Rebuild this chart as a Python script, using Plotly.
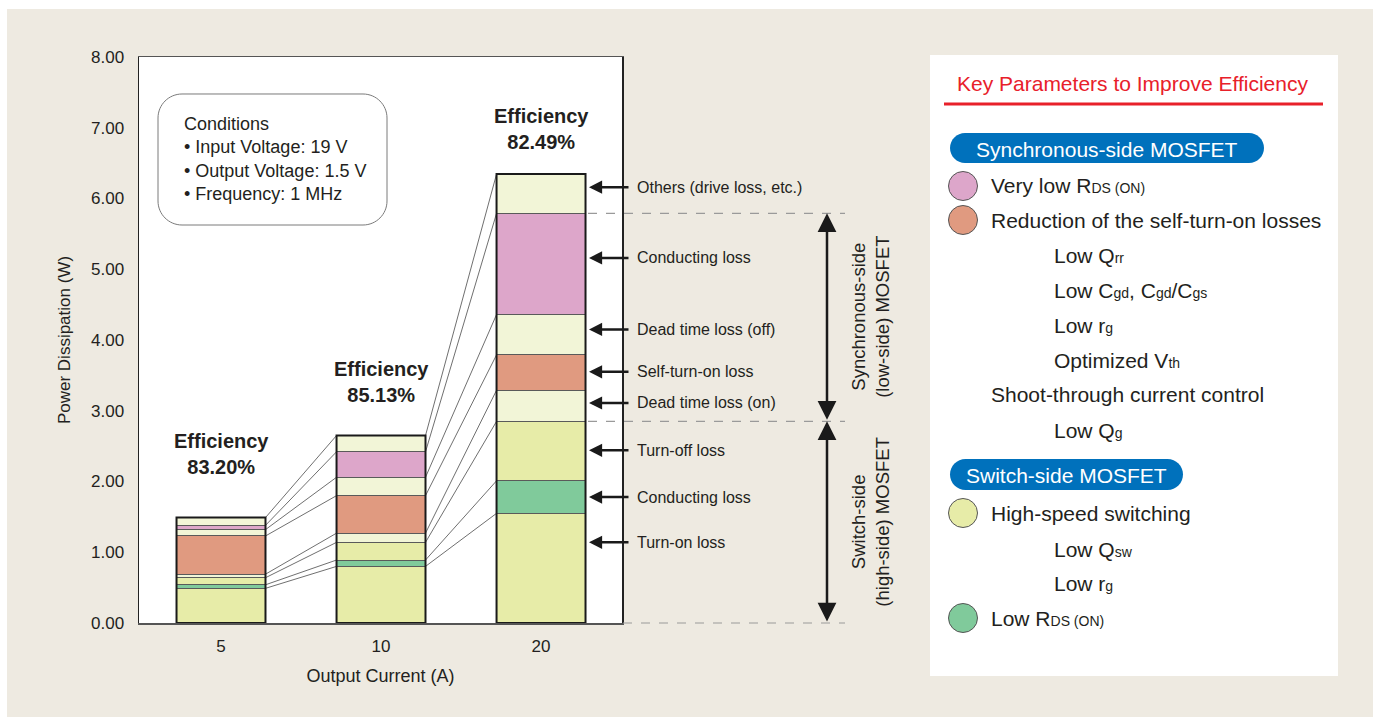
import plotly.graph_objects as go

# ---------------- data ----------------
currents = ["5", "10", "20"]
efficiency = ["83.20%", "85.13%", "82.49%"]

turn_on_loss = [0.49, 0.80, 1.55]
hs_conducting_loss = [0.05, 0.09, 0.46]
turn_off_loss = [0.10, 0.25, 0.84]
dead_time_loss_on = [0.05, 0.13, 0.44]
self_turn_on_loss = [0.54, 0.53, 0.50]
dead_time_loss_off = [0.09, 0.26, 0.57]
ls_conducting_loss = [0.06, 0.36, 1.43]
others_loss = [0.11, 0.23, 0.555]

loss_labels = ["Turn-on loss", "Conducting loss", "Turn-off loss", "Dead time loss (on)",
               "Self-turn-on loss", "Dead time loss (off)", "Conducting loss",
               "Others (drive loss, etc.)"]
y_ticks = [0, 1, 2, 3, 4, 5, 6, 7, 8]

# ---------------- layout constants ----------------
W, H = 1373, 717
L, R, T, B = 139, 622, 57, 623  # plot area in screen pixels
YMAX = 8.0
BW = 0.556
X0, X1 = -0.5125, 2.506
FONT = "Liberation Sans, Arial, Helvetica, sans-serif"
TXT = "#231F20"
BEIGE = "#EEEAE1"

series = [turn_on_loss, hs_conducting_loss, turn_off_loss, dead_time_loss_on,
          self_turn_on_loss, dead_time_loss_off, ls_conducting_loss, others_loss]
colors = ["#E7ECA8", "#80CA9B", "#E7ECA8", "#F2F5D7", "#E09A80", "#F2F5D7", "#DDA6CA", "#F2F5D7"]
label_y = [1.14, 1.78, 2.44, 3.11, 3.55, 4.15, 5.16, 6.16]
eff_label_y = [2.39, 3.40, 6.98]


def px(xp):
    return (xp - L) / (R - L)


def py(yp):
    return (B - yp) / (B - T)


def rrect(x0, y0, x1, y1, r):
    k = 0.5523 * r
    def P(x, y):
        return f"{px(x):.5f},{py(y):.5f}"
    return (f"M{P(x0 + r, y0)} L{P(x1 - r, y0)} "
            f"C{P(x1 - r + k, y0)} {P(x1, y0 + r - k)} {P(x1, y0 + r)} "
            f"L{P(x1, y1 - r)} "
            f"C{P(x1, y1 - r + k)} {P(x1 - r + k, y1)} {P(x1 - r, y1)} "
            f"L{P(x0 + r, y1)} "
            f"C{P(x0 + r - k, y1)} {P(x0, y1 - r + k)} {P(x0, y1 - r)} "
            f"L{P(x0, y0 + r)} "
            f"C{P(x0, y0 + r - k)} {P(x0 + r - k, y0)} {P(x0 + r, y0)} Z")


xpos = list(range(len(currents)))

fig = go.Figure()

for vals, col, name in zip(series, colors, loss_labels):
    fig.add_bar(x=xpos, y=vals, width=BW, name=name,
                marker=dict(color=col, line=dict(color="#5a5a5a", width=1)),
                showlegend=False, hoverinfo="skip")

# cumulative tops
cum = []
for i in range(len(currents)):
    s = 0
    row = []
    for ser in series:
        s += ser[i]
        row.append(s)
    cum.append(row)
totals = [c[-1] for c in cum]

# connecting lines
lx, ly = [], []
for i in range(len(currents) - 1):
    for k in range(len(series)):
        lx += [xpos[i] + BW / 2, xpos[i + 1] - BW / 2, None]
        ly += [cum[i][k], cum[i + 1][k], None]
fig.add_scatter(x=lx, y=ly, mode="lines", line=dict(color="#4a4a4a", width=0.8),
                showlegend=False, hoverinfo="skip")

shapes = []
annotations = []

# outer white strips (top / left)
shapes.append(dict(type="rect", xref="paper", yref="paper", x0=px(0), x1=px(W), y0=py(0), y1=py(9),
                   fillcolor="white", line=dict(width=0), layer="below"))
shapes.append(dict(type="rect", xref="paper", yref="paper", x0=px(0), x1=px(7), y0=py(0), y1=py(H),
                   fillcolor="white", line=dict(width=0), layer="below"))

# bar outlines
for i in range(len(currents)):
    shapes.append(dict(type="rect", xref="x", yref="y", x0=xpos[i] - BW / 2, x1=xpos[i] + BW / 2,
                       y0=0, y1=totals[i], line=dict(color="#1a1a1a", width=2)))

# efficiency labels
for i in range(len(currents)):
    annotations.append(dict(xref="x", yref="y", x=xpos[i], y=eff_label_y[i],
                            text=f"<b>Efficiency<br>{efficiency[i]}</b>", showarrow=False,
                            font=dict(size=20, color=TXT, family=FONT), align="center"))

# conditions box
shapes.append(dict(type="path", xref="paper", yref="paper", path=rrect(158, 94, 387, 225, 24),
                   line=dict(color="#7a7a7a", width=1), fillcolor="white"))
annotations.append(dict(xref="paper", yref="paper", x=px(182), y=py(159), xanchor="left", yanchor="middle",
                        text="Conditions<br>• Input Voltage: 19 V<br>• Output Voltage: 1.5 V<br>• Frequency: 1 MHz",
                        showarrow=False, align="left", font=dict(size=18, color=TXT, family=FONT)))

# arrows + labels at 20 A bar
last = len(currents) - 1
for k, lab in enumerate(loss_labels):
    annotations.append(dict(xref="paper", yref="y", x=px(589), y=label_y[k], text="",
                            showarrow=True, ax=41, ay=0, arrowhead=2, arrowsize=1.05, arrowwidth=2.5,
                            arrowcolor="#1a1a1a", standoff=0, startstandoff=0))
    annotations.append(dict(xref="paper", yref="y", x=px(635), y=label_y[k], text=lab, showarrow=False,
                            xanchor="left", yanchor="middle", font=dict(size=16, color=TXT, family=FONT)))

# dashed separators
sync_top = cum[last][6]
switch_top = cum[last][2]
for yv, xs in [(sync_top, 588), (switch_top, 588), (0, 623)]:
    shapes.append(dict(type="line", xref="paper", yref="paper", x0=px(xs), x1=px(845),
                       y0=yv / YMAX, y1=yv / YMAX, line=dict(color="#9a9a9a", width=1.2, dash="dash")))

# vertical double arrows
for ytop, ybot in [(sync_top, switch_top), (switch_top, 0)]:
    annotations.append(dict(xref="paper", yref="y", x=px(827), y=ytop, text="",
                            showarrow=True, axref="pixel", ayref="y", ax=0, ay=ybot,
                            arrowhead=2, startarrowhead=2, arrowside="end+start",
                            arrowsize=1.5, startarrowsize=1.5, arrowwidth=2.5,
                            arrowcolor="#1a1a1a", standoff=0, startstandoff=0))
annotations.append(dict(xref="paper", yref="y", x=px(895), y=(sync_top + switch_top) / 2,
                        text="Synchronous-side<br>(low-side) MOSFET", textangle=-90, showarrow=False,
                        font=dict(size=18.5, color=TXT, family=FONT)))
annotations.append(dict(xref="paper", yref="y", x=px(895), y=switch_top / 2,
                        text="Switch-side<br>(high-side) MOSFET", textangle=-90, showarrow=False,
                        font=dict(size=18.5, color=TXT, family=FONT)))

# right panel
shapes.append(dict(type="rect", xref="paper", yref="paper", x0=px(930), x1=px(1338), y0=py(55), y1=py(676),
                   fillcolor="white", line=dict(width=0), layer="below"))
annotations.append(dict(xref="paper", yref="paper", x=px(955), y=py(83), xanchor="left", yanchor="middle",
                        text="Key Parameters to Improve Efficiency", showarrow=False,
                        font=dict(size=21, color="#E8202A", family=FONT)))
shapes.append(dict(type="line", xref="paper", yref="paper", x0=px(944), x1=px(1323), y0=py(104), y1=py(104),
                   line=dict(color="#E8202A", width=3)))

BLUE = "#0071BC"
for (x0, y0, x1, y1, txt) in [(950, 133, 1264, 163, "Synchronous-side MOSFET"),
                              (950, 459, 1183, 490, "Switch-side MOSFET")]:
    shapes.append(dict(type="path", xref="paper", yref="paper", path=rrect(x0, y0, x1, y1, (y1 - y0) / 2),
                       fillcolor=BLUE, line=dict(width=0)))
    annotations.append(dict(xref="paper", yref="paper", x=px((x0 + x1) / 2), y=py((y0 + y1) / 2 + 1),
                            text=txt, showarrow=False, xanchor="center", yanchor="middle",
                            font=dict(size=21, color="white", family=FONT)))


def small(s):
    return f'<span style="font-size:14px">{s}</span>'


panel_items = [
    (186, 989, "Very low R" + small("DS (ON)"), colors[6]),
    (220, 989, "Reduction of the self-turn-on losses", colors[4]),
    (256, 1052, "Low Q" + small("rr"), None),
    (290, 1052, "Low C" + small("gd") + ", C" + small("gd") + "/C" + small("gs"), None),
    (325, 1052, "Low r" + small("g"), None),
    (360, 1052, "Optimized V" + small("th"), None),
    (394, 989, "Shoot-through current control", None),
    (430, 1052, "Low Q" + small("g"), None),
    (513, 989, "High-speed switching", colors[0]),
    (549, 1052, "Low Q" + small("sw"), None),
    (583, 1052, "Low r" + small("g"), None),
    (618, 989, "Low R" + small("DS (ON)"), colors[1]),
]
for (yc, xl, txt, col) in panel_items:
    annotations.append(dict(xref="paper", yref="paper", x=px(xl), y=py(yc), xanchor="left", yanchor="middle",
                            text=txt, showarrow=False, font=dict(size=21, color=TXT, family=FONT)))
    if col:
        shapes.append(dict(type="circle", xref="paper", yref="paper", x0=px(963 - 14.5), x1=px(963 + 14.5),
                           y0=py(yc - 14.5), y1=py(yc + 14.5), fillcolor=col,
                           line=dict(color="#555555", width=1)))

fig.update_layout(
    width=W, height=H,
    margin=dict(l=L, r=W - R, t=T, b=H - B, pad=0),
    paper_bgcolor=BEIGE, plot_bgcolor="white",
    barmode="stack", bargap=0,
    showlegend=False,
    shapes=shapes, annotations=annotations,
    font=dict(family=FONT, color=TXT),
    xaxis=dict(range=[X0, X1], tickvals=xpos, ticktext=currents, showgrid=False, zeroline=False,
               showline=True, linecolor="#555555", linewidth=1.5, mirror=True, fixedrange=True,
               ticks="", ticklabelstandoff=7, tickfont=dict(size=17, color=TXT),
               title=dict(text="Output Current (A)", font=dict(size=18, color=TXT), standoff=14)),
    yaxis=dict(range=[0, YMAX], tickvals=y_ticks, tickformat=".2f", showgrid=False, zeroline=False,
               showline=True, linecolor="#222222", linewidth=1.5, mirror=True, fixedrange=True,
               ticks="", ticklabelstandoff=10, tickfont=dict(size=17, color=TXT),
               title=dict(text="Power Dissipation (W)", font=dict(size=17, color=TXT), standoff=16)),
)

fig.write_html("out.html",
               config={"displayModeBar": False, "staticPlot": True},
               post_script="document.body.style.margin='0';document.body.style.padding='0';"
                           "document.documentElement.style.overflow='hidden';"
                           "document.body.style.overflow='hidden';"
                           "document.documentElement.style.background='#EEEAE1';"
                           "document.body.style.background='#EEEAE1';")
